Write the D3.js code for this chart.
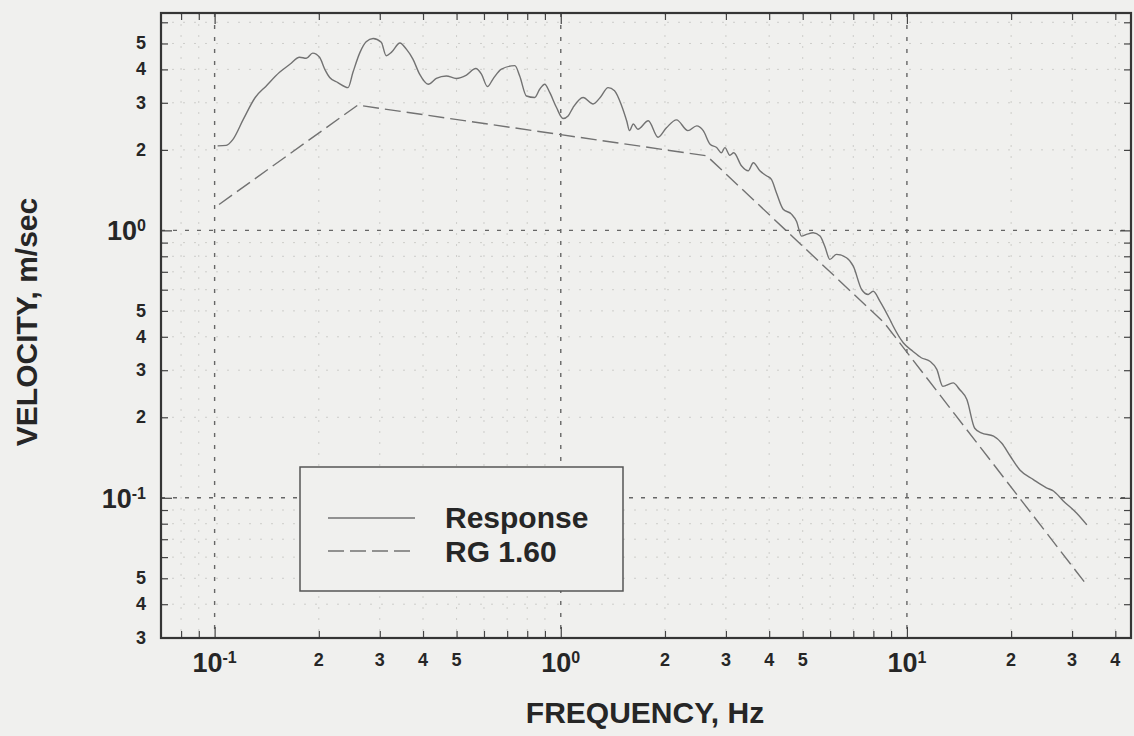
<!DOCTYPE html>
<html>
<head>
<meta charset="utf-8">
<script src="https://cdn.jsdelivr.net/npm/d3@7"></script>
<style>
  body { margin: 0; background: #f0f0ee; }
  svg { display: block; font-family: "Liberation Sans", Arial, Helvetica, sans-serif; font-weight: bold; }
</style>
</head>
<body>
<script>
// response spectrum
var responseHz = [0.102,0.108,0.113,0.121,0.131,0.141,0.154,0.165,0.176,0.184,0.192,0.201,0.208,0.215,0.227,0.243,0.251,0.263,0.274,0.287,
  0.303,0.313,0.324,0.343,0.358,0.374,0.391,0.414,0.437,0.467,0.499,0.534,0.568,0.590,0.614,0.637,0.674,0.737,0.761,0.796,
  0.841,0.869,0.899,0.929,0.972,1.015,1.05,1.085,1.16,1.24,1.30,1.37,1.43,1.50,1.55,1.58,1.62,1.67,1.79,1.91,
  2.02,2.16,2.33,2.47,2.58,2.70,2.82,2.91,2.98,3.08,3.16,3.33,3.48,3.60,3.76,3.93,4.06,4.20,4.39,4.64,
  4.80,4.96,5.13,5.36,5.61,5.79,5.99,6.26,6.69,7.00,7.40,7.73,7.99,8.36,8.93,9.13,9.76,10.4,11.0,11.65,
  12.2,12.7,13.6,14.2,14.9,15.7,16.4,17.8,18.8,19.9,21.2,23.2,25.3,26.5,28.3,30.9,33.1];
var responseVel = [2.07,2.08,2.19,2.60,3.14,3.47,3.90,4.18,4.44,4.40,4.60,4.44,4.01,3.73,3.57,3.42,3.90,4.63,5.07,5.22,
  5.05,4.50,4.63,5.02,4.76,4.37,3.84,3.52,3.70,3.78,3.70,3.81,4.03,3.84,3.45,3.68,4.01,4.13,3.78,3.18,
  3.14,3.37,3.52,3.28,2.88,2.62,2.68,2.88,3.14,2.97,3.14,3.42,3.33,2.92,2.57,2.36,2.50,2.39,2.57,2.23,
  2.42,2.59,2.36,2.46,2.36,2.10,2.04,1.95,2.04,1.91,1.95,1.74,1.67,1.79,1.67,1.60,1.55,1.38,1.20,1.15,
  1.08,0.952,0.966,0.980,0.952,0.873,0.779,0.813,0.790,0.735,0.601,0.576,0.592,0.543,0.464,0.438,0.380,0.353,0.334,0.324,
  0.302,0.261,0.269,0.254,0.233,0.182,0.175,0.170,0.160,0.143,0.127,0.117,0.109,0.106,0.0973,0.0877,0.0792];

// RG 1.60 design spectrum corner points
var rgHz  = [0.103, 0.259, 2.64, 8.6, 32.7];
var rgVel = [1.25, 2.94, 1.90, 0.451, 0.0481];

var xMajorTicks = [0.1, 1, 10];
var xMinorTicks = [0.08,0.09,0.2,0.3,0.4,0.5,0.6,0.7,0.8,0.9,2,3,4,5,6,7,8,9,20,30,40];
var yMajorTicks = [0.1, 1];
var yMinorTicks = [0.04,0.05,0.06,0.07,0.08,0.09,0.2,0.3,0.4,0.5,0.6,0.7,0.8,0.9,2,3,4,5,6];

var xLabelValues = [0.1,0.2,0.3,0.4,0.5,1,2,3,4,5,10,20,30,40];
var xLabelText = ["10^-1","2","3","4","5","10^0","2","3","4","5","10^1","2","3","4"];
var yLabelValues = [0.03,0.04,0.05,0.1,0.2,0.3,0.4,0.5,1,2,3,4,5];
var yLabelText = ["3","4","5","10^-1","2","3","4","5","10^0","2","3","4","5"];

var seriesNames = ["Response", "RG 1.60"];

var width = 1134, height = 736;
var plotLeft = 161, plotRight = 1131, plotTop = 13, plotBottom = 638;
var ink = "#262626";

var x = d3.scaleLog().domain([0.07, 44.4]).range([plotLeft, plotRight]);
var y = d3.scaleLog().domain([0.0299, 6.5]).range([plotBottom, plotTop]);

var svg = d3.select("body").append("svg")
    .attr("width", width)
    .attr("height", height);

svg.append("rect")
    .attr("width", width).attr("height", height)
    .attr("fill", "#f0f0ee");

// faint graph-paper grid
var grid = svg.append("g");
grid.selectAll(".vminor").data(xMinorTicks).enter().append("line")
    .attr("x1", d => x(d)).attr("x2", d => x(d))
    .attr("y1", plotTop).attr("y2", plotBottom)
    .attr("stroke", "#cdcdca").attr("stroke-width", 1).attr("stroke-dasharray", "2,9");
grid.selectAll(".hminor").data(yMinorTicks).enter().append("line")
    .attr("y1", d => y(d)).attr("y2", d => y(d))
    .attr("x1", plotLeft).attr("x2", plotRight)
    .attr("stroke", "#cdcdca").attr("stroke-width", 1).attr("stroke-dasharray", "2,9");
grid.selectAll(".vmajor").data(xMajorTicks).enter().append("line")
    .attr("x1", d => x(d)).attr("x2", d => x(d))
    .attr("y1", plotTop).attr("y2", plotBottom)
    .attr("stroke", "#666").attr("stroke-width", 1.4).attr("stroke-dasharray", "4,8");
grid.selectAll(".hmajor").data(yMajorTicks).enter().append("line")
    .attr("y1", d => y(d)).attr("y2", d => y(d))
    .attr("x1", plotLeft).attr("x2", plotRight)
    .attr("stroke", "#666").attr("stroke-width", 1.4).attr("stroke-dasharray", "4,8");

// inward ticks on all four sides
function ticks(axis, values, size, tr) {
  var g = svg.append("g").attr("transform", tr)
      .call(axis.tickValues(values).tickSize(-size).tickFormat(""));
  g.select(".domain").remove();
  g.selectAll(".tick line").attr("stroke", "#444").attr("stroke-width", 1.2);
}
ticks(d3.axisBottom(x), xMinorTicks, 7, "translate(0," + plotBottom + ")");
ticks(d3.axisBottom(x), xMajorTicks, 11, "translate(0," + plotBottom + ")");
ticks(d3.axisTop(x), xMinorTicks, 7, "translate(0," + plotTop + ")");
ticks(d3.axisTop(x), xMajorTicks, 11, "translate(0," + plotTop + ")");
ticks(d3.axisLeft(y), yMinorTicks, 7, "translate(" + plotLeft + ",0)");
ticks(d3.axisLeft(y), yMajorTicks, 11, "translate(" + plotLeft + ",0)");
ticks(d3.axisRight(y), yMinorTicks, 7, "translate(" + plotRight + ",0)");
ticks(d3.axisRight(y), yMajorTicks, 11, "translate(" + plotRight + ",0)");

svg.append("rect")
    .attr("x", plotLeft).attr("y", plotTop)
    .attr("width", plotRight - plotLeft).attr("height", plotBottom - plotTop)
    .attr("fill", "none").attr("stroke", "#353535").attr("stroke-width", 2.2);

// tick labels with power-of-ten superscripts
function writeLabel(t, txt) {
  var parts = txt.split("^");
  if (parts.length > 1) {
    t.append("tspan").text(parts[0]).style("font-size", "27px");
    t.append("tspan").text(parts[1]).attr("dy", -9).style("font-size", "16px");
  } else {
    t.append("tspan").text(parts[0]).style("font-size", "18px");
  }
}

svg.append("g").selectAll("text")
    .data(xLabelValues).enter().append("text")
    .attr("x", d => x(d))
    .attr("y", (d, i) => xLabelText[i].indexOf("^") > -1 ? 672 : 666)
    .attr("text-anchor", "middle")
    .attr("fill", ink)
    .each(function(d, i) { writeLabel(d3.select(this), xLabelText[i]); });

svg.append("g").selectAll("text")
    .data(yLabelValues).enter().append("text")
    .attr("x", 146)
    .attr("y", (d, i) => y(d) + (yLabelText[i].indexOf("^") > -1 ? 10 : 6))
    .attr("text-anchor", "end")
    .attr("fill", ink)
    .each(function(d, i) { writeLabel(d3.select(this), yLabelText[i]); });

// axis titles
svg.append("text")
    .attr("x", 645).attr("y", 723)
    .attr("text-anchor", "middle")
    .attr("fill", ink)
    .style("font-size", "30px")
    .text("FREQUENCY, Hz");

svg.append("text")
    .attr("transform", "translate(37,322) rotate(-90)")
    .attr("text-anchor", "middle")
    .attr("fill", ink)
    .style("font-size", "30px")
    .text("VELOCITY, m/sec");

// curves
var response = responseHz.map((f, i) => [f, responseVel[i]]);
var rg = rgHz.map((f, i) => [f, rgVel[i]]);

var line = d3.line()
    .x(d => x(d[0]))
    .y(d => y(d[1]));

svg.append("path")
    .attr("d", line.curve(d3.curveMonotoneX)(response))
    .attr("fill", "none")
    .attr("stroke", "#727272")
    .attr("stroke-width", 1.4);

svg.append("path")
    .attr("d", line.curve(d3.curveLinear)(rg))
    .attr("fill", "none")
    .attr("stroke", "#727272")
    .attr("stroke-width", 1.4)
    .attr("stroke-dasharray", "16,6");

// legend
var legend = svg.append("g");
legend.append("rect")
    .attr("x", 300).attr("y", 467)
    .attr("width", 323).attr("height", 124)
    .attr("fill", "#f0f0ee")
    .attr("stroke", "#555").attr("stroke-width", 1.5);

legend.selectAll("line")
    .data(seriesNames).enter().append("line")
    .attr("x1", 328).attr("x2", 415)
    .attr("y1", (d, i) => 518 + i * 33).attr("y2", (d, i) => 518 + i * 33)
    .attr("stroke", "#727272").attr("stroke-width", 1.4)
    .attr("stroke-dasharray", (d, i) => i ? "16,6" : null);

legend.selectAll("text")
    .data(seriesNames).enter().append("text")
    .attr("x", 445)
    .attr("y", (d, i) => 528 + i * 34)
    .attr("fill", ink)
    .style("font-size", "30px")
    .text(d => d);
</script>
</body>
</html>
